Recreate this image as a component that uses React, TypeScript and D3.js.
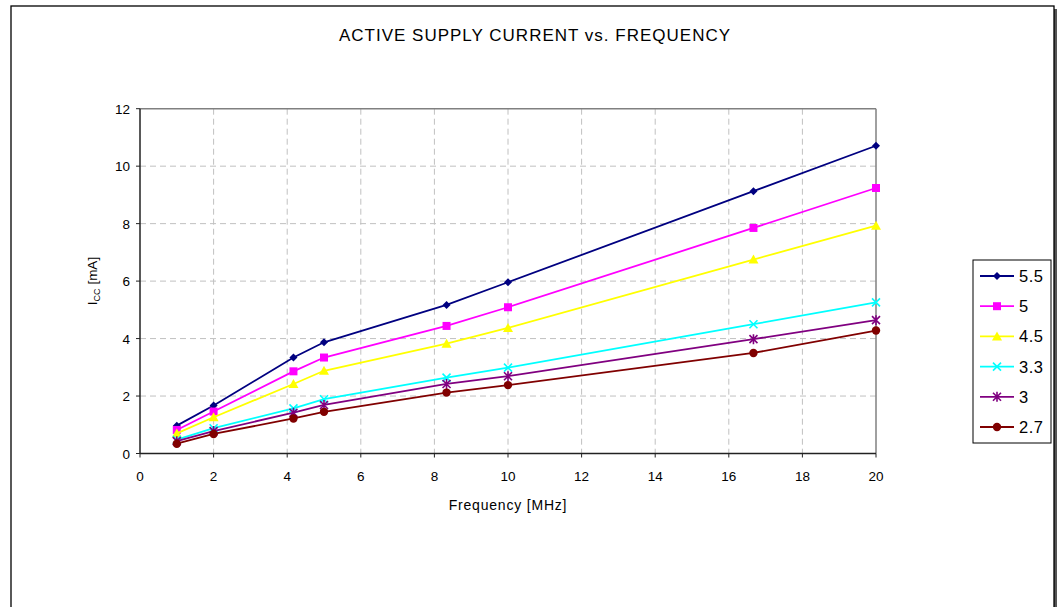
import React from "react";
import * as d3 from "d3";

const frequencies = [1, 2, 4.17, 5, 8.33, 10, 16.67, 20];
const seriesNames = ["5.5", "5", "4.5", "3.3", "3", "2.7"];
const v55 = [0.97, 1.67, 3.34, 3.87, 5.17, 5.96, 9.13, 10.71];
const v50 = [0.82, 1.46, 2.86, 3.34, 4.44, 5.09, 7.85, 9.24];
const v45 = [0.7, 1.26, 2.42, 2.88, 3.82, 4.37, 6.75, 7.93];
const v33 = [0.48, 0.88, 1.57, 1.89, 2.64, 2.99, 4.5, 5.26];
const v30 = [0.43, 0.78, 1.42, 1.69, 2.42, 2.69, 3.98, 4.64];
const v27 = [0.34, 0.68, 1.22, 1.45, 2.12, 2.38, 3.5, 4.28];
const xTicks = [0, 2, 4, 6, 8, 10, 12, 14, 16, 18, 20];
const yTicks = [0, 2, 4, 6, 8, 10, 12];

const seriesValues = [v55, v50, v45, v33, v30, v27];
const colors = ["#000080", "#FF00FF", "#FFFF00", "#00FFFF", "#800080", "#800000"];
const markers = ["diamond", "square", "triangle", "x", "asterisk", "circle"];

const FONT = "'Liberation Sans', Arial, Helvetica, sans-serif";

function Marker({ type, x, y, color }: { type: string; x: number; y: number; color: string }) {
  switch (type) {
    case "diamond":
      return <path d={`M${x},${y - 4}L${x + 4},${y}L${x},${y + 4}L${x - 4},${y}Z`} fill={color} />;
    case "square":
      return <rect x={x - 4} y={y - 4} width={8} height={8} fill={color} />;
    case "triangle":
      return <path d={`M${x},${y - 5}L${x + 5},${y + 4}L${x - 5},${y + 4}Z`} fill={color} />;
    case "x":
      return (
        <path d={`M${x - 4},${y - 4}L${x + 4},${y + 4}M${x - 4},${y + 4}L${x + 4},${y - 4}`} stroke={color} strokeWidth={1.6} />
      );
    case "asterisk":
      return (
        <path
          d={`M${x - 4},${y - 4}L${x + 4},${y + 4}M${x - 4},${y + 4}L${x + 4},${y - 4}M${x},${y - 5}L${x},${y + 5}`}
          stroke={color}
          strokeWidth={1.6}
        />
      );
    default:
      return <circle cx={x} cy={y} r={4.2} fill={color} />;
  }
}

export default function App() {
  const W = 1062;
  const H = 607;
  const left = 140;
  const right = 876;
  const top = 108.7;
  const bottom = 453.5;
  const x = d3.scaleLinear().domain([0, 20]).range([left, right]);
  const y = d3.scaleLinear().domain([0, 12]).range([bottom, top]);
  const line = d3
    .line<[number, number]>()
    .x((d) => x(d[0]))
    .y((d) => y(d[1]));

  const legX = 973;
  const legY = 260;
  const legRow = 30.2;

  return (
    <svg width={W} height={H} style={{ position: "absolute", left: 0, top: 0, background: "#fff" }} fontFamily={FONT}>
      <rect x={0} y={0} width={W} height={H} fill="#fff" />
      {/* outer frame with shadow */}
      <rect x={14} y={9} width={1043} height={640} fill="#555" />
      <rect x={11} y={6} width={1043} height={640} fill="#fff" stroke="#000" strokeWidth={1.3} />

      {/* title */}
      <text x={535} y={41} textAnchor="middle" fontSize={17} letterSpacing={1} fill="#000">
        ACTIVE SUPPLY CURRENT vs. FREQUENCY
      </text>

      {/* grid */}
      {xTicks.slice(1, -1).map((t) => (
        <line key={"gx" + t} x1={x(t)} x2={x(t)} y1={top} y2={bottom} stroke="#c0c0c0" strokeDasharray="6,4" />
      ))}
      {yTicks.slice(1, -1).map((t) => (
        <line key={"gy" + t} x1={left} x2={right} y1={y(t)} y2={y(t)} stroke="#c0c0c0" strokeDasharray="6,4" />
      ))}
      {/* plot frame top/right */}
      <line x1={left} x2={right} y1={top} y2={top} stroke="#808080" strokeWidth={1.5} />
      <line x1={right} x2={right} y1={top} y2={bottom} stroke="#808080" strokeWidth={1.5} />

      {/* axes */}
      <line x1={left} x2={left} y1={top} y2={bottom} stroke="#222" strokeWidth={1.5} />
      <line x1={left} x2={right} y1={bottom} y2={bottom} stroke="#222" strokeWidth={1.5} />
      {xTicks.map((t) => (
        <g key={"xt" + t}>
          <line x1={x(t)} x2={x(t)} y1={bottom} y2={bottom + 4} stroke="#222" />
          <text x={x(t)} y={bottom + 27} textAnchor="middle" fontSize={13.5} fill="#000">
            {t}
          </text>
        </g>
      ))}
      {yTicks.map((t) => (
        <g key={"yt" + t}>
          <line x1={left - 4} x2={left} y1={y(t)} y2={y(t)} stroke="#222" />
          <text x={left - 10} y={y(t) + 5} textAnchor="end" fontSize={13.5} fill="#000">
            {t}
          </text>
        </g>
      ))}

      {/* axis titles */}
      <text x={508} y={510} textAnchor="middle" fontSize={14} letterSpacing={0.8} fill="#000">
        Frequency [MHz]
      </text>
      <text transform={`translate(97,281) rotate(-90)`} textAnchor="middle" fontSize={13.5} fill="#000">
        I<tspan fontSize={9} dy={3}>CC</tspan>
        <tspan dy={-3}> [mA]</tspan>
      </text>

      {/* series */}
      {seriesValues.map((vals, i) => {
        const pts = frequencies.map((f, j) => [f, vals[j]] as [number, number]);
        return (
          <g key={"s" + i}>
            <path d={line(pts) || ""} fill="none" stroke={colors[i]} strokeWidth={1.8} />
            {pts.map((p, j) => (
              <Marker key={j} type={markers[i]} x={x(p[0])} y={y(p[1])} color={colors[i]} />
            ))}
          </g>
        );
      })}

      {/* legend */}
      <rect x={legX} y={legY} width={78} height={183} fill="#fff" stroke="#000" strokeWidth={1} />
      {seriesNames.map((name, i) => {
        const cy = legY + 16 + i * legRow;
        return (
          <g key={"l" + i}>
            <line x1={980} x2={1014} y1={cy} y2={cy} stroke={colors[i]} strokeWidth={1.8} />
            <Marker type={markers[i]} x={997} y={cy} color={colors[i]} />
            <text x={1019} y={cy + 6} fontSize={16.5} letterSpacing={0.5} fill="#000">
              {name}
            </text>
          </g>
        );
      })}
    </svg>
  );
}
